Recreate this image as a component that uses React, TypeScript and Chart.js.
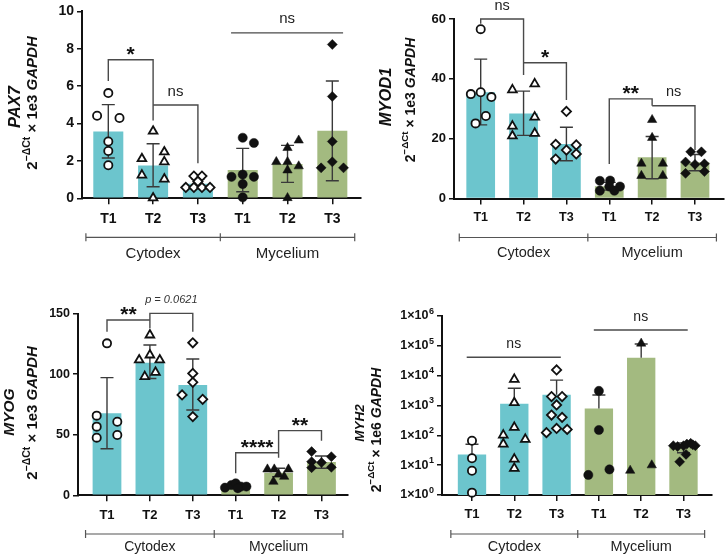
import { useEffect, useRef } from 'react';
import { Chart, registerables, type ChartConfiguration, type Plugin } from 'chart.js';

Chart.register(...registerables);

const W = 725;
const H = 557;
const FONT = '"Liberation Sans", Arial, Helvetica, sans-serif';
const TEAL = '#6cc5cd';
const OLIVE = '#a3ba80';
const INK = '#111';
const CAP = 6.5;

// shared categories
const CATEGORIES = ['T1', 'T2', 'T3', 'T1', 'T2', 'T3'];
const GROUPS = ['Cytodex', 'Mycelium'];
const GROUP_CENTERS = [1, 4];
const STYLES = ['circle', 'triangle', 'rectRot', 'circle', 'triangle', 'rectRot'];
const FILLED = [false, false, false, true, true, true];

// PAX7
const PAX7_MEANS = [3.58, 1.76, 0.78, 1.51, 1.84, 3.62];
const PAX7_SD_HI = [5.01, 2.92, 1.02, 2.67, 2.83, 6.28];
const PAX7_SD_LO = [2.16, 0.62, 0.55, 0.35, 0.85, 0.94];
const PAX7_POINTS = [
  [5.63, 4.42, 4.3, 3.04, 2.53, 1.77],
  [3.59, 2.12, 2.48, 1.95, 1.24, 1.03, 0.02],
  [1.19, 1.19, 0.9, 0.58, 0.58, 0.58, 0.58],
  [3.24, 2.96, 1.15, 1.27, 1.15, 0.76, 0.05],
  [3.1, 2.7, 1.95, 1.95, 1.72, 1.5, 0.02],
  [8.23, 5.45, 3.04, 1.63, 1.63, 1.95],
];
const PAX7_JITTER = [
  [0, -0.25, 0.25, 0, 0, 0],
  [0, -0.25, 0.25, 0.25, -0.25, 0.25, 0],
  [-0.09, 0.09, 0, -0.27, -0.09, 0.09, 0.27],
  [0, 0.25, -0.25, 0, 0.25, 0, 0],
  [0.25, 0, -0.25, 0, 0.25, 0, 0],
  [0, 0, 0, -0.25, 0.25, 0],
];
const PAX7_Y_TICKS = [0, 2, 4, 6, 8, 10];
const PAX7_BRACKETS = [
  { x1: 0, x2: 1, y: 7.41, leg1: 6.28, leg2: 4.16, label: '*' },
  { x1: 1, x2: 2, y: 4.99, leg2: 1.87, label: 'ns' },
  { x1: 2.74, x2: 5.24, y: 8.85, label: 'ns' },
];

// MYOD1
const MYOD1_MEANS = [35.5, 28.4, 18.2, 4.1, 13.8, 12.1];
const MYOD1_SD_HI = [46.6, 35.9, 23.8, 5.4, 20.7, 14.7];
const MYOD1_SD_LO = [24.6, 21.1, 12.6, 2.8, 6.6, 9.3];
const MYOD1_POINTS = [
  [56.6, 34.9, 35.5, 33.9, 27.6, 25.1],
  [36.3, 38.3, 24.2, 27.2, 20.9, 21.8],
  [29.1, 18.1, 17.9, 16.2, 13.2, 14.9],
  [5.9, 6.0, 4.0, 4.0, 2.6, 2.6],
  [26.3, 20.3, 11.7, 11.7, 7.6, 7.6],
  [15.6, 15.6, 12.2, 11.4, 11.6, 8.4, 9.0],
];
const MYOD1_JITTER = [
  [0, -0.23, 0, 0.25, 0.12, -0.12],
  [-0.26, 0.26, -0.26, 0.26, -0.26, 0.26],
  [0, -0.25, 0.23, 0, -0.25, 0.23],
  [-0.22, 0.02, 0.25, 0, -0.22, 0.12],
  [0, 0, -0.25, 0.25, -0.25, 0.25],
  [-0.1, 0.15, -0.22, 0, 0.22, -0.22, 0.22],
];
const MYOD1_Y_TICKS = [0, 20, 40, 60];
const MYOD1_BRACKETS = [
  { x1: 0, x2: 1, y: 60, leg1: 58.4, leg2: 41.3, label: 'ns' },
  { x1: 1, x2: 2, y: 45.4, leg2: 32.9, label: '*' },
  { x1: 3, x2: 4, y: 33.3, leg1: 11.5, leg2: 31, label: '**' },
  { x1: 4, x2: 5, y: 31, leg2: 16.2, label: 'ns' },
];

// MYOG
const MYOG_MEANS = [67.7, 109.5, 91.1, 7.4, 18.7, 27.5];
const MYOG_SD_HI = [97.2, 124.1, 112.6, 9.3, 22.3, 32.5];
const MYOG_SD_LO = [38.5, 96.5, 70.5, 5.6, 15.4, 22.3];
const MYOG_POINTS = [
  [125.5, 65.8, 56.7, 47.6, 60.8, 49.8],
  [132.4, 111.8, 115.9, 111.8, 98, 101.6],
  [126, 100.7, 93.3, 82.9, 79.3, 65],
  [6.3, 8.5, 9.9, 7.2, 7.2, 5.8],
  [21.5, 21.5, 21.5, 15.4, 17.3, 11.3],
  [36.1, 31.9, 27.8, 27, 22.8, 23.1],
];
const MYOG_JITTER = [
  [0, -0.24, -0.24, -0.24, 0.24, 0.24],
  [0, -0.25, 0, 0.23, -0.12, 0.13],
  [0, 0, 0, -0.25, 0.23, 0],
  [-0.25, -0.1, 0, 0.12, 0.25, 0.05],
  [-0.26, -0.1, 0.23, 0.13, 0, -0.12],
  [-0.23, 0.23, -0.23, 0, -0.23, 0.23],
];
const MYOG_Y_TICKS = [0, 50, 100, 150];
const MYOG_BRACKETS = [
  { x1: 0, x2: 1, y: 144.8, leg1: 135.1, label: '**' },
  { x1: 1, x2: 2, y: 150.3, leg1: 138, leg2: 135.1, label: 'p = 0.0621' },
  { x1: 3, x2: 4, y: 35.2, leg1: 18.2, label: '****' },
  { x1: 4, x2: 5, y: 53.4, leg1: 31.1, leg2: 45.1, label: '**' },
];

// MYH2 (log axis)
const MYH2_MEANS = [22.7, 1140, 2300, 790, 40000, 40];
const MYH2_SD_HI = [50, 3800, 7100, 2240, 115000, 56];
const MYH2_SD_LO = [null, null, null, null, null, 26];
const MYH2_POINTS = [
  [66, 17, 6.5, 1.2],
  [7500, 1240, 185, 73, 102, 51, 16, 7.8],
  [15500, 1990, 1990, 1040, 480, 400, 123, 170, 158],
  [3090, 151, 7.2, 4.7],
  [120000, 6.6, 10],
  [45, 42, 45, 51, 54, 45, 23, 13, 48],
];
const MYH2_JITTER = [
  [0, 0, 0, 0],
  [0, 0, 0, 0.26, -0.26, -0.26, 0, 0],
  [0, -0.12, 0.13, 0, -0.12, 0.13, -0.24, 0, 0.25],
  [0, 0, 0.25, -0.25],
  [0, -0.26, 0.25],
  [-0.24, -0.14, 0, 0.08, 0.17, 0.28, 0.06, -0.09, 0.22],
];
const MYH2_Y_TICKS = [1, 10, 100, 1e3, 1e4, 1e5, 1e6];
const MYH2_TICK_BASE = '1×10';
const MYH2_TICK_EXP = ['0', '1', '2', '3', '4', '5', '6'];
const MYH2_BRACKETS = [
  { x1: -0.125, x2: 2.1, y: 41300, label: 'ns' },
  { x1: 2.88, x2: 5.1, y: 339000, label: 'ns' },
];

interface Bracket { x1: number; x2: number; y: number; leg1?: number; leg2?: number; label: string }
interface Panel {
  gene: string;
  norm: string;
  means: number[];
  hi: number[];
  lo: (number | null)[];
  points: number[][];
  jitter: number[][];
  yTicks: number[];
  tickExp?: string[];
  brackets: Bracket[];
  log?: boolean;
  area: { left: number; top: number; right: number; bottom: number };
  xMin: number;
  xMax: number;
  fonts: { yTick: number; xTick: number; group: number; ns: number; gene: number; line2: number };
  geneAt: [number, number];
  line2At: [number, number];
  groupLineDy: number;
  groupTextDy: number;
}

const PANELS: Panel[] = [
  {
    gene: 'PAX7', norm: '1e3', means: PAX7_MEANS, hi: PAX7_SD_HI, lo: PAX7_SD_LO,
    points: PAX7_POINTS, jitter: PAX7_JITTER, yTicks: PAX7_Y_TICKS, brackets: PAX7_BRACKETS,
    area: { left: 82, top: 10, right: 361, bottom: 198.3 }, xMin: -0.587, xMax: 5.64,
    fonts: { yTick: 14, xTick: 14, group: 15, ns: 15, gene: 16.5, line2: 15 },
    geneAt: [15, 107], line2At: [33, 103], groupLineDy: 39, groupTextDy: 55,
  },
  {
    gene: 'MYOD1', norm: '1e3', means: MYOD1_MEANS, hi: MYOD1_SD_HI, lo: MYOD1_SD_LO,
    points: MYOD1_POINTS, jitter: MYOD1_JITTER, yTicks: MYOD1_Y_TICKS, brackets: MYOD1_BRACKETS,
    area: { left: 454, top: 19, right: 724, bottom: 198.5 }, xMin: -0.623, xMax: 5.677,
    fonts: { yTick: 13, xTick: 12.5, group: 14.5, ns: 14.5, gene: 16.5, line2: 14 },
    geneAt: [386, 97], line2At: [411, 100], groupLineDy: 39, groupTextDy: 53.4,
  },
  {
    gene: 'MYOG', norm: '1e3', means: MYOG_MEANS, hi: MYOG_SD_HI, lo: MYOG_SD_LO,
    points: MYOG_POINTS, jitter: MYOG_JITTER, yTicks: MYOG_Y_TICKS, brackets: MYOG_BRACKETS,
    area: { left: 78, top: 313.7, right: 348, bottom: 495.3 }, xMin: -0.676, xMax: 5.618,
    fonts: { yTick: 12.5, xTick: 13, group: 14, ns: 14, gene: 15.5, line2: 15 },
    geneAt: [10, 412], line2At: [33, 413], groupLineDy: 38.7, groupTextDy: 51,
  },
  {
    gene: 'MYH2', norm: '1e6', means: MYH2_MEANS, hi: MYH2_SD_HI, lo: MYH2_SD_LO,
    points: MYH2_POINTS, jitter: MYH2_JITTER, yTicks: MYH2_Y_TICKS, tickExp: MYH2_TICK_EXP,
    brackets: MYH2_BRACKETS, log: true,
    area: { left: 442, top: 316, right: 712, bottom: 495 }, xMin: -0.709, xMax: 5.674,
    fonts: { yTick: 12.5, xTick: 13, group: 14.5, ns: 14, gene: 13.5, line2: 14 },
    geneAt: [360, 423], line2At: [377, 430], groupLineDy: 39, groupTextDy: 51,
  },
];

const Y_AXIS_W = 40;
const X_AXIS_H = 30;

function drawYTitle(ctx: CanvasRenderingContext2D, p: Panel) {
  ctx.save();
  ctx.fillStyle = INK;
  ctx.textBaseline = 'middle';
  ctx.textAlign = 'center';
  ctx.translate(p.geneAt[0], p.geneAt[1]);
  ctx.rotate(-Math.PI / 2);
  ctx.font = `italic bold ${p.fonts.gene}px ${FONT}`;
  ctx.fillText(p.gene, 0, 0);
  ctx.restore();

  const f = p.fonts.line2;
  const parts = [
    { t: '2', font: `bold ${f}px ${FONT}`, dy: 0 },
    { t: '−ΔCt', font: `bold ${f * 0.7}px ${FONT}`, dy: -f * 0.38 },
    { t: ` × ${p.norm} `, font: `bold ${f}px ${FONT}`, dy: 0 },
    { t: 'GAPDH', font: `italic bold ${f}px ${FONT}`, dy: 0 },
  ];
  ctx.save();
  ctx.fillStyle = INK;
  ctx.textBaseline = 'middle';
  ctx.textAlign = 'left';
  ctx.translate(p.line2At[0], p.line2At[1]);
  ctx.rotate(-Math.PI / 2);
  let total = 0;
  const widths = parts.map((part) => {
    ctx.font = part.font;
    const w = ctx.measureText(part.t).width;
    total += w;
    return w;
  });
  let x = -total / 2;
  parts.forEach((part, i) => {
    ctx.font = part.font;
    ctx.fillText(part.t, x, part.dy);
    x += widths[i];
  });
  ctx.restore();
}

// power-of-ten labels with a real raised exponent
function drawLogTicks(chart: Chart, p: Panel) {
  if (!p.tickExp) return;
  const { ctx, chartArea } = chart;
  const ys = chart.scales.y;
  const f = p.fonts.yTick;
  const right = chartArea.left - 5 - 3;
  ctx.save();
  ctx.fillStyle = INK;
  ctx.textAlign = 'right';
  ctx.textBaseline = 'middle';
  p.yTicks.forEach((v, i) => {
    const y = ys.getPixelForValue(v);
    ctx.font = `bold ${f * 0.72}px ${FONT}`;
    const ew = ctx.measureText(p.tickExp![i]).width;
    ctx.fillText(p.tickExp![i], right, y - f * 0.38);
    ctx.font = `bold ${f}px ${FONT}`;
    ctx.fillText(MYH2_TICK_BASE, right - ew - 0.5, y);
  });
  ctx.restore();
}

function overlay(p: Panel): Plugin<'bar'> {
  return {
    id: 'overlay',
    afterDatasetDraw(chart, args) {
      if (args.meta.type !== 'bar') return;
      const { ctx } = chart;
      const xs = chart.scales.x;
      const ys = chart.scales.y;
      ctx.save();
      ctx.strokeStyle = '#3a3a3a';
      ctx.lineWidth = 1.4;
      p.means.forEach((m, i) => {
        const px = xs.getPixelForValue(i);
        const top = ys.getPixelForValue(p.hi[i]);
        const lo = p.lo[i];
        const bottom = ys.getPixelForValue(lo ?? m);
        ctx.beginPath();
        ctx.moveTo(px, top);
        ctx.lineTo(px, bottom);
        ctx.moveTo(px - CAP, top);
        ctx.lineTo(px + CAP, top);
        if (lo != null) {
          ctx.moveTo(px - CAP, bottom);
          ctx.lineTo(px + CAP, bottom);
        }
        ctx.stroke();
      });
      ctx.restore();
    },
    afterDraw(chart) {
      const { ctx, chartArea } = chart;
      const xs = chart.scales.x;
      const ys = chart.scales.y;
      ctx.save();
      // significance brackets
      ctx.strokeStyle = '#4a4a4a';
      ctx.lineWidth = 1.4;
      ctx.fillStyle = INK;
      ctx.textAlign = 'center';
      ctx.textBaseline = 'alphabetic';
      p.brackets.forEach((b) => {
        const x1 = xs.getPixelForValue(b.x1);
        const x2 = xs.getPixelForValue(b.x2);
        const y = ys.getPixelForValue(b.y);
        ctx.beginPath();
        if (b.leg1 != null) {
          ctx.moveTo(x1, ys.getPixelForValue(b.leg1));
          ctx.lineTo(x1, y);
        } else {
          ctx.moveTo(x1, y);
        }
        ctx.lineTo(x2, y);
        if (b.leg2 != null) ctx.lineTo(x2, ys.getPixelForValue(b.leg2));
        ctx.stroke();
        const mx = (x1 + x2) / 2;
        if (b.label.startsWith('*')) {
          ctx.font = `bold 21px ${FONT}`;
          ctx.fillText(b.label, mx, y + 1);
        } else if (b.label.startsWith('p')) {
          ctx.font = `italic 11px ${FONT}`;
          ctx.fillStyle = '#333';
          ctx.fillText(b.label, mx, y - 10);
          ctx.fillStyle = INK;
        } else {
          ctx.font = `${p.fonts.ns}px ${FONT}`;
          ctx.fillStyle = '#222';
          ctx.fillText(b.label, mx, y - 9.5);
          ctx.fillStyle = INK;
        }
      });
      // group bracket below the axis
      const gy = chartArea.bottom + p.groupLineDy;
      const ends = [-0.5, 2.5, 5.5].map((v) => xs.getPixelForValue(v));
      ctx.strokeStyle = '#555';
      ctx.lineWidth = 1.2;
      ctx.beginPath();
      ctx.moveTo(ends[0], gy);
      ctx.lineTo(ends[2], gy);
      ends.forEach((ex) => {
        ctx.moveTo(ex, gy - 4);
        ctx.lineTo(ex, gy + 4);
      });
      ctx.stroke();
      ctx.font = `${p.fonts.group}px ${FONT}`;
      ctx.fillStyle = '#222';
      GROUPS.forEach((g, i) => {
        ctx.fillText(g, xs.getPixelForValue(GROUP_CENTERS[i]), chartArea.bottom + p.groupTextDy + 5);
      });
      ctx.restore();
      drawLogTicks(chart, p);
      drawYTitle(ctx, p);
    },
  };
}

function buildConfig(p: Panel): ChartConfiguration<'bar'> {
  const bars = {
    type: 'bar' as const,
    data: p.means.map((v, i) => ({ x: i, y: v })),
    backgroundColor: p.means.map((_, i) => (i < 3 ? TEAL : OLIVE)),
    borderWidth: 0,
    barPercentage: 0.67,
    categoryPercentage: 1,
    order: 2,
  };
  const dots = p.points.map((vals, i) => {
    const style = STYLES[i];
    const filled = FILLED[i];
    const radius = style === 'triangle' ? (filled ? 5.4 : 5) : style === 'rectRot' ? (filled ? 5 : 4.6) : filled ? 4.6 : 4.1;
    return {
      type: 'scatter' as const,
      data: vals.map((v, j) => ({ x: i + p.jitter[i][j], y: v })),
      pointStyle: style,
      pointRadius: radius,
      pointBackgroundColor: filled ? INK : '#fff',
      pointBorderColor: INK,
      pointBorderWidth: filled ? 0.5 : 1.8,
      showLine: false,
      clip: false,
      order: 1,
    };
  });

  const tickFont = (size: number) => ({ family: FONT, size, weight: 'bold' as const });

  return {
    type: 'bar',
    data: { datasets: [bars, ...dots] as never },
    options: {
      animation: false,
      responsive: false,
      events: [],
      layout: {
        autoPadding: false,
        padding: {
          left: p.area.left - Y_AXIS_W,
          top: p.area.top,
          right: W - p.area.right,
          bottom: H - p.area.bottom - X_AXIS_H,
        },
      },
      plugins: { legend: { display: false }, tooltip: { enabled: false }, title: { display: false } },
      scales: {
        x: {
          type: 'linear',
          min: p.xMin,
          max: p.xMax,
          bounds: 'data',
          offset: false,
          afterBuildTicks: (s) => {
            s.ticks = CATEGORIES.map((_, i) => ({ value: i }));
          },
          afterFit: (s) => {
            s.height = X_AXIS_H;
          },
          ticks: {
            callback: (v) => CATEGORIES[Number(v)] ?? '',
            font: tickFont(p.fonts.xTick),
            color: INK,
            padding: 6,
            autoSkip: false,
            maxRotation: 0,
          },
          grid: { offset: false, drawOnChartArea: false, drawTicks: true, tickLength: 6, color: INK, lineWidth: 1.5 },
          border: { display: true, color: INK, width: 2 },
        },
        y: {
          type: p.log ? 'logarithmic' : 'linear',
          min: p.yTicks[0],
          max: p.yTicks[p.yTicks.length - 1],
          afterBuildTicks: (s) => {
            s.ticks = p.yTicks.map((v) => ({ value: v }));
          },
          afterFit: (s) => {
            s.width = Y_AXIS_W;
          },
          ticks: {
            display: !p.tickExp,
            callback: (v) => String(v),
            font: tickFont(p.fonts.yTick),
            color: INK,
            padding: 3,
            autoSkip: false,
          },
          grid: { drawOnChartArea: false, drawTicks: true, tickLength: 5, color: INK, lineWidth: 1.5 },
          border: { display: true, color: INK, width: 2 },
        },
      },
    },
    plugins: [overlay(p)],
  } as ChartConfiguration<'bar'>;
}

function PanelCanvas({ panel }: { panel: Panel }) {
  const canvasRef = useRef<HTMLCanvasElement>(null);

  useEffect(() => {
    if (!canvasRef.current) return;
    const chart = new Chart(canvasRef.current, buildConfig(panel));
    return () => {
      chart.destroy();
    };
  }, [panel]);

  return (
    <canvas
      ref={canvasRef}
      width={W}
      height={H}
      style={{ position: 'absolute', left: 0, top: 0, width: W, height: H }}
    />
  );
}

export default function App() {
  return (
    <div style={{ position: 'absolute', left: 0, top: 0, width: W, height: H, background: '#fff' }}>
      {PANELS.map((p) => (
        <PanelCanvas key={p.gene} panel={p} />
      ))}
    </div>
  );
}
